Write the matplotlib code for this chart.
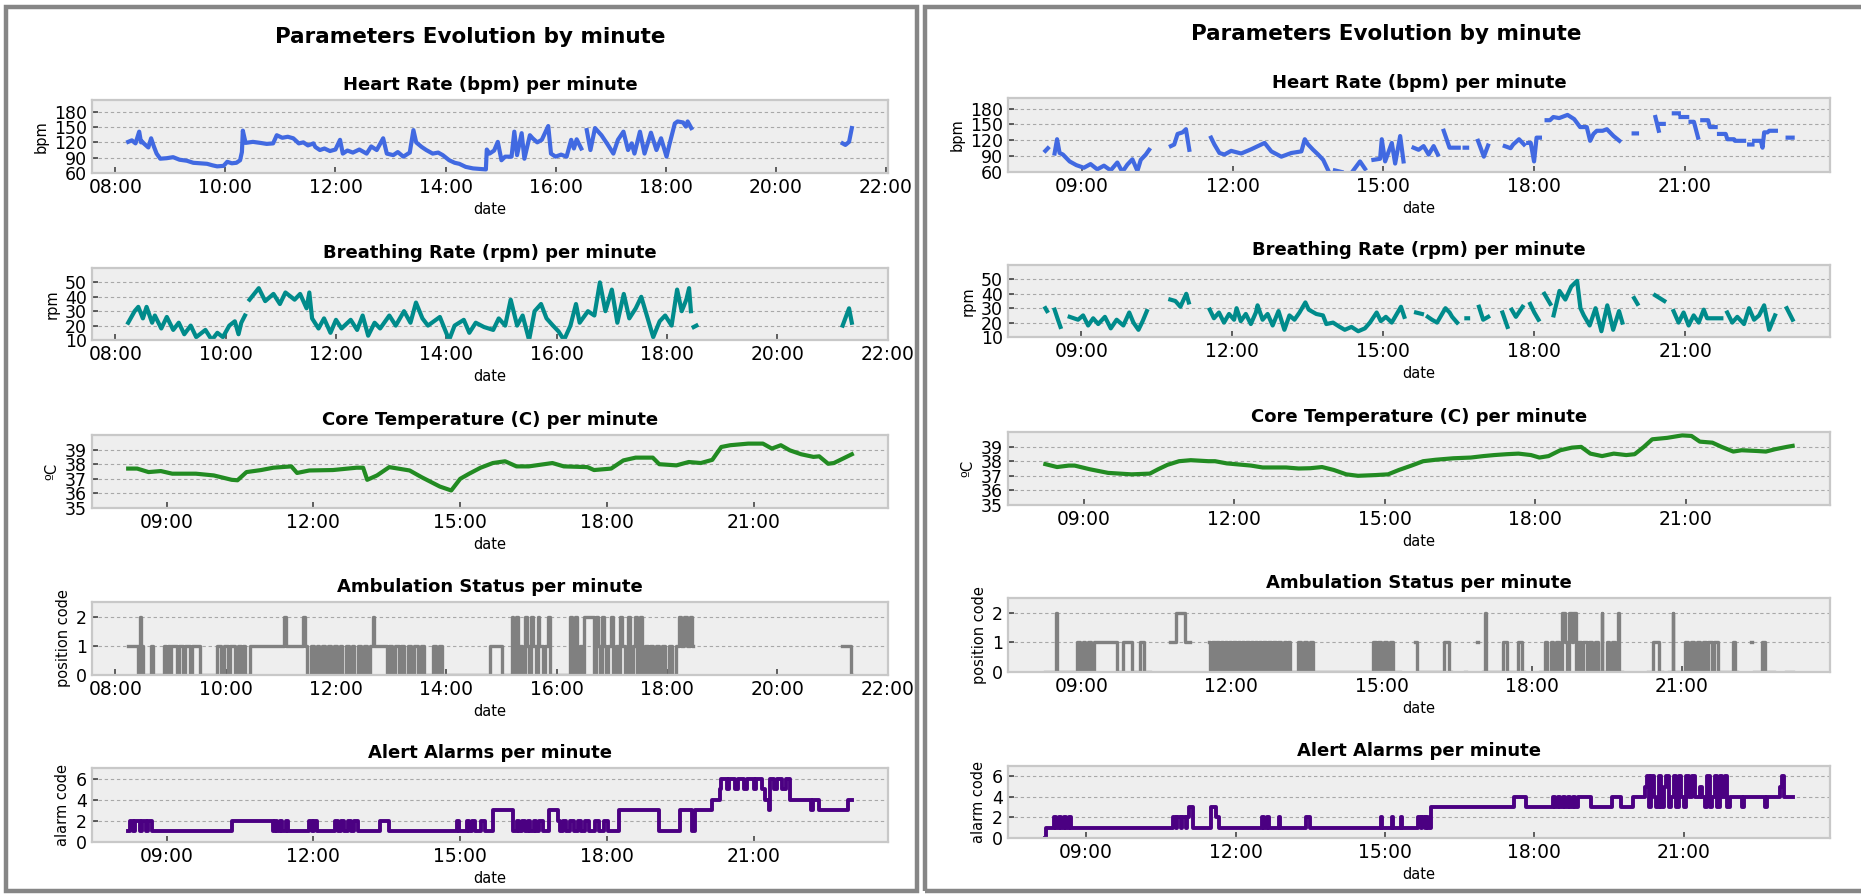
import numpy as np
import pandas as pd
import matplotlib
matplotlib.use('Agg')
import matplotlib.pyplot as plt
import matplotlib.dates as mdates
from matplotlib.patches import Rectangle

# ---------------- left panel data ----------------
lhr_t = ['08:14', '08:18', '08:22', '08:26', '08:28', '08:29', '08:31', '08:36', '08:39', '08:42', '08:45', '08:49',
         '08:56', '09:03', '09:10', '09:18', '09:25', '09:33', '09:40', '09:46', '09:51', '09:58', '10:02', '10:07',
         '10:12', '10:16', '10:18', '10:19', '10:22', '10:30', '10:38', '10:45', '10:52', '10:56', '11:02', '11:08',
         '11:14', '11:20', '11:25', '11:30', '11:36', '11:38', '11:43', '11:48', '11:54', '12:00', '12:05', '12:08',
         '12:13', '12:19', '12:26', '12:34', '12:39', '12:45', '12:52', '12:56', '13:03', '13:08', '13:14', '13:21',
         '13:25', '13:28', '13:34', '13:39', '13:46', '13:52', '13:57', '14:04', '14:10', '14:15', '14:22', '14:30',
         '14:37', '14:44', '14:45', '14:48', '14:53', '14:57', '15:01', '15:05', '15:12', '15:15', '15:18', '15:23',
         '15:26', '15:32', '15:35', '15:40', '15:45', '15:52', '15:55', '16:00', '16:06', '16:12', '16:17', '16:20',
         '16:23', '16:28', '16:31', '16:34', '16:38', '16:43', '16:50', '16:56', '17:03', '17:08', '17:14', '17:19',
         '17:23', '17:26', '17:32', '17:37', '17:44', '17:50', '17:55', '18:01', '18:04', '18:10', '18:13', '18:19',
         '18:22', '18:24', '18:28', '18:35', '21:13', '21:16', '21:20', '21:23']
lhr_v = [121, 124, 118, 141, 120, 122, 118, 110, 128, 112, 98, 88,
         89, 91, 86, 84, 80, 79, 78, 75, 73, 74, 82, 79,
         80, 85, 101, 143, 119, 121, 119, 117, 118, 134, 129, 131,
         128, 118, 120, 114, 118, 111, 105, 108, 103, 106, 125, 98,
         104, 100, 106, 98, 112, 105, 128, 98, 95, 101, 92, 100,
         144, 120, 111, 105, 98, 100, 95, 85, 80, 78, 72, 69,
         68, 67, 106, 98, 104, 121, 85, 92, 92, 141, 95, 138,
         88, 134, 128, 120, 125, 152, 98, 92, 96, 92, 125, 108,
         126, 108, None, 144, 105, 148, 134, 118, 98, 125, 141, 105,
         118, 98, 141, 98, 139, 105, 128, 92, 115, 157, 161, 159,
         151, 161, 148, None, 118, 115, 121, 148]

lbr_t = ['08:14', '08:21', '08:25', '08:30', '08:34', '08:40', '08:43', '08:50', '08:56', '09:03', '09:09', '09:15',
         '09:22', '09:28', '09:38', '09:45', '09:51', '09:57', '10:04', '10:10', '10:14', '10:17', '10:21', '10:23',
         '10:26', '10:36', '10:43', '10:52', '10:59', '11:05', '11:15', '11:21', '11:28', '11:31', '11:34', '11:41',
         '11:47', '11:54', '12:00', '12:06', '12:16', '12:23', '12:29', '12:35', '12:42', '12:48', '12:58', '13:05',
         '13:14', '13:21', '13:27', '13:34', '13:40', '13:53', '14:03', '14:09', '14:19', '14:25', '14:32', '14:41',
         '14:51', '14:57', '15:04', '15:10', '15:17', '15:23', '15:30', '15:36', '15:43', '15:49', '15:56', '16:02',
         '16:08', '16:15', '16:21', '16:25', '16:34', '16:41', '16:47', '16:53', '17:00', '17:06', '17:13', '17:19',
         '17:26', '17:32', '17:39', '17:45', '17:52', '17:58', '18:05', '18:11', '18:16', '18:21', '18:24', '18:26',
         '18:27', '18:29', '18:32', '19:00', '21:11', '21:18', '21:21']
lbr_v = [22, 30, 33, 25, 33, 22, 27, 18, 26, 17, 22, 14,
         20, 12, 17, 10, 15, 12, 20, 23, 14, 22, 27, None,
         38, 46, 37, 42, 35, 43, 38, 42, 32, 43, 25, 18,
         25, 15, 24, 18, 24, 17, 27, 13, 22, 18, 27, 20,
         30, 22, 36, 25, 20, 26, 10, 20, 24, 15, 22, 19,
         17, 25, 20, 38, 20, 27, 10, 30, 35, 25, 20, 16,
         10, 20, 35, 22, 30, 27, 50, 30, 45, 22, 42, 25,
         32, 40, 25, 12, 23, 27, 20, 45, 30, 38, 46, 30,
         None, 19, 20, None, 20, 32, 22]

ltemp_t = ['08:13', '08:24', '08:38', '08:53', '09:07', '09:36', '09:58', '10:20', '10:27', '10:38', '10:56', '11:11',
           '11:33', '11:40', '11:55', '12:24', '12:53', '13:01', '13:06', '13:18', '13:33', '13:58', '14:13', '14:35',
           '14:49', '15:00', '15:11', '15:25', '15:40', '15:55', '16:09', '16:24', '16:53', '17:07', '17:36', '17:44',
           '18:05', '18:20', '18:35', '18:56', '19:04', '19:25', '19:40', '19:55', '20:09', '20:20', '20:31', '20:53',
           '21:11', '21:22', '21:33', '21:44', '21:58', '22:13', '22:20', '22:31', '22:38', '22:49', '23:00']
ltemp_v = [37.7, 37.7, 37.46, 37.53, 37.35, 37.35, 37.23, 36.93, 36.9, 37.46, 37.6, 37.76,
           37.85, 37.4, 37.57, 37.6, 37.76, 37.76, 36.93, 37.23, 37.8, 37.57, 37.1, 36.47,
           36.2, 37.0, 37.35, 37.76, 38.08, 38.2, 37.85, 37.85, 38.08, 37.85, 37.8, 37.6,
           37.7, 38.26, 38.45, 38.45, 38.0, 37.92, 38.15, 38.08, 38.3, 39.18, 39.3, 39.41,
           39.41, 39.07, 39.3, 38.95, 38.68, 38.5, 38.54, 38.03, 38.08, 38.38, 38.68]

lamb_t = ['08:14', '08:25', '08:27', '08:28', '08:30', '08:39', '08:41', '08:53', '08:55', '08:57', '08:59', '09:01',
          '09:07', '09:09', '09:14', '09:16', '09:21', '09:23', '09:32', '09:51', '09:55', '09:58', '10:03', '10:05',
          '10:10', '10:13', '10:17', '10:19', '10:21', '10:26', '11:04', '11:06', '11:24', '11:26', '11:29', '11:33',
          '11:36', '11:39', '11:42', '11:45', '11:48', '11:51', '11:55', '11:58', '12:01', '12:04', '12:07', '12:11',
          '12:14', '12:17', '12:20', '12:24', '12:27', '12:30', '12:34', '12:37', '12:40', '12:41', '12:55', '12:58',
          '13:01', '13:04', '13:08', '13:11', '13:14', '13:18', '13:22', '13:25', '13:29', '13:32', '13:36', '13:46',
          '13:49', '13:52', '13:55', '14:47', '15:01', '15:11', '15:13', '15:16', '15:18', '15:20', '15:22', '15:26',
          '15:28', '15:30', '15:32', '15:34', '15:38', '15:40', '15:41', '15:45', '15:47', '15:51', '15:53', '16:15',
          '16:17', '16:20', '16:22', '16:25', '16:28', '16:30', '16:41', '16:43', '16:45', '16:47', '16:49', '16:51',
          '16:54', '16:56', '16:59', '17:01', '17:04', '17:07', '17:09', '17:11', '17:14', '17:18', '17:20', '17:23',
          '17:25', '17:27', '17:31', '17:33', '17:36', '17:39', '17:42', '17:45', '17:48', '17:51', '17:55', '17:58',
          '18:02', '18:05', '18:10', '18:13', '18:15', '18:19', '18:22', '18:25', '18:27', '18:28', '21:10', '21:20',
          '21:21']
lamb_v = [1, 0, 2, 1, 0, 1, 0, 1, 0, 1, 0, 1,
          0, 1, 0, 1, 0, 1, 0, 1, 0, 1, 0, 1,
          0, 1, 0, 1, 0, 1, 2, 1, 2, 1, 0, 1,
          0, 1, 0, 1, 0, 1, 0, 1, 0, 1, 0, 1,
          0, 1, 0, 1, 0, 1, 0, 1, 2, 1, 0, 1,
          0, 1, 0, 1, 0, 1, 0, 1, 0, 1, 0, 1,
          0, 1, 0, 1, 0, 2, 0, 2, 0, 1, 0, 2,
          1, 0, 2, 1, 0, 2, 1, 0, 1, 2, 0, 2,
          0, 2, 0, 1, 0, 2, 0, 2, 1, 0, 2, 1,
          0, 1, 2, 0, 1, 0, 2, 1, 0, 2, 0, 1,
          2, 0, 2, 0, 1, 0, 1, 0, 1, 0, 1, 0,
          1, 0, 1, 2, 1, 2, 1, 2, 1, None, 1, 0,
          0]

lalarm_t = ['08:13', '08:15', '08:19', '08:21', '08:27', '08:30', '08:35', '08:37', '08:42', '10:20', '11:11', '11:13',
            '11:16', '11:19', '11:22', '11:26', '11:29', '11:55', '11:58', '12:01', '12:05', '12:27', '12:30', '12:34',
            '12:38', '12:42', '12:46', '12:50', '12:55', '13:22', '13:33', '14:56', '14:58', '15:08', '15:11', '15:15',
            '15:18', '15:25', '15:30', '15:40', '16:05', '16:09', '16:12', '16:16', '16:19', '16:23', '16:26', '16:30',
            '16:33', '16:37', '16:42', '16:49', '17:00', '17:02', '17:06', '17:10', '17:15', '17:19', '17:24', '17:28',
            '17:33', '17:38', '17:45', '17:50', '17:56', '18:01', '18:15', '19:04', '19:29', '19:44', '19:48', '20:09',
            '20:18', '20:20', '20:27', '20:30', '20:37', '20:40', '20:48', '20:51', '21:00', '21:03', '21:10', '21:14',
            '21:18', '21:20', '21:25', '21:28', '21:35', '21:39', '21:44', '22:10', '22:13', '22:20', '22:55', '23:00']
lalarm_v = [1, 2, 1, 2, 1, 2, 1, 2, 1, 2, 1, 2,
            1, 2, 1, 2, 1, 2, 1, 2, 1, 2, 1, 2,
            1, 2, 1, 2, 1, 2, 1, 2, 1, 2, 1, 2,
            1, 2, 1, 3, 1, 2, 1, 2, 1, 2, 1, 2,
            1, 2, 1, 3, 2, 1, 2, 1, 2, 1, 2, 1,
            2, 1, 2, 1, 2, 1, 3, 1, 3, 1, 3, 4,
            5, 6, 5, 6, 5, 6, 5, 6, 5, 6, 5, 4,
            3, 6, 5, 6, 5, 6, 4, 3, 4, 3, 4, 4]

# ---------------- right panel data ----------------
rhr_t = ['08:16', '08:19', '08:23', '08:27', '08:30', '08:33', '08:37', '08:45', '08:53', '09:02', '09:10', '09:18',
         '09:26', '09:34', '09:42', '09:48', '09:54', '10:00', '10:06', '10:10', '10:16', '10:20', '10:30', '10:46',
         '10:50', '10:54', '11:00', '11:04', '11:08', '11:20', '11:34', '11:38', '11:44', '11:50', '11:58', '12:10',
         '12:22', '12:38', '12:46', '12:58', '13:10', '13:22', '13:26', '13:30', '13:36', '13:42', '13:48', '13:54',
         '13:58', '14:02', '14:10', '14:16', '14:24', '14:32', '14:38', '14:42', '14:48', '14:56', '14:58', '15:02',
         '15:10', '15:14', '15:20', '15:24', '15:30', '15:36', '15:42', '15:48', '15:54', '16:00', '16:05', '16:09',
         '16:12', '16:19', '16:30', '16:34', '16:37', '16:40', '16:46', '16:53', '17:00', '17:05', '17:15', '17:25',
         '17:32', '17:35', '17:42', '17:48', '17:51', '17:53', '17:56', '18:00', '18:03', '18:07', '18:11', '18:15',
         '18:19', '18:23', '18:30', '18:40', '18:48', '18:55', '19:03', '19:07', '19:11', '19:15', '19:22', '19:27',
         '19:35', '19:42', '19:50', '19:59', '20:03', '20:15', '20:25', '20:29', '20:30', '20:31', '20:35', '20:40',
         '20:47', '20:53', '20:54', '20:55', '21:03', '21:05', '21:07', '21:11', '21:16', '21:19', '21:21', '21:28',
         '21:30', '21:37', '21:39', '21:41', '21:49', '21:51', '21:59', '22:00', '22:11', '22:14', '22:17', '22:21',
         '22:22', '22:23', '22:31', '22:33', '22:35', '22:39', '22:41', '22:49', '22:55', '23:03', '23:09']
rhr_v = [100, 105, None, 95, 122, 96, 93, 80, 73, 68, 75, 65,
         72, 63, 78, 60, 74, 84, 62, 83, 93, 102, None, 109,
         112, 132, 135, 141, 102, None, 125, 112, 96, 93, 100, 95,
         103, 115, 99, 89, 96, 99, 122, 112, 102, 93, 83, 63,
         None, 63, 60, None, 63, 80, 66, None, 83, 85, 122, 80,
         115, 76, 128, 80, None, 106, 102, 109, 93, 109, 93, None,
         138, 106, 106, None, 106, 106, None, 119, 89, 110, None, 109,
         105, 112, 122, 112, None, 115, 115, 80, 125, 125, None, 158,
         158, 164, 162, 168, 160, 145, 145, 119, 132, 138, 138, 141,
         128, 119, None, 133, 133, None, 164, 138, None, 151, 151, None,
         171, 171, None, 164, 164, None, 155, 155, 125, None, 158, 158,
         145, 145, None, 132, 132, 122, 122, 119, 119, None, 112, 112,
         None, 119, 119, 106, 135, 135, 138, 138, None, 125, 125]

rbr_t = ['08:17', '08:19', '08:24', '08:28', '08:32', '08:35', '08:40', '08:46', '08:56', '09:02', '09:08', '09:14',
         '09:20', '09:28', '09:35', '09:42', '09:50', '09:57', '10:02', '10:08', '10:13', '10:18', '10:30', '10:46',
         '10:52', '10:58', '11:05', '11:08', '11:20', '11:33', '11:38', '11:44', '11:50', '11:56', '12:02', '12:05',
         '12:10', '12:16', '12:22', '12:28', '12:30', '12:36', '12:42', '12:48', '12:55', '13:02', '13:08', '13:14',
         '13:20', '13:27', '13:31', '13:40', '13:48', '13:52', '14:00', '14:08', '14:14', '14:22', '14:30', '14:38',
         '14:44', '14:52', '14:57', '15:03', '15:10', '15:16', '15:21', '15:25', '15:32', '15:39', '15:46', '15:50',
         '15:53', '15:58', '16:04', '16:08', '16:14', '16:19', '16:22', '16:28', '16:33', '16:39', '16:41', '16:48',
         '16:54', '16:59', '17:05', '17:12', '17:22', '17:28', '17:30', '17:33', '17:38', '17:46', '17:50', '17:55',
         '18:00', '18:05', '18:08', '18:12', '18:19', '18:21', '18:23', '18:30', '18:37', '18:44', '18:51', '18:55',
         '18:59', '19:06', '19:13', '19:20', '19:27', '19:34', '19:41', '19:45', '19:52', '19:59', '20:03', '20:15',
         '20:24', '20:35', '20:40', '20:46', '20:52', '20:58', '21:04', '21:10', '21:16', '21:22', '21:26', '21:32',
         '21:43', '21:46', '21:50', '21:56', '22:02', '22:10', '22:16', '22:22', '22:28', '22:34', '22:40', '22:47',
         '22:55', '23:01', '23:08']
rbr_v = [30, 28, None, 29, 22, 17, None, 24, 22, 25, 18, 23,
         19, 24, 16, 22, 18, 27, 20, 15, 21, 28, None, 36,
         35, 31, 40, 34, None, 29, 23, 27, 20, 26, 22, 30,
         21, 26, 19, 27, 32, 22, 26, 18, 28, 15, 25, 22,
         27, 34, 29, 26, 25, 19, 20, 17, 15, 17, 14, 16,
         20, 27, 21, 24, 20, 26, 31, 24, None, 27, 26, None,
         24, 22, 20, 24, 30, 27, 24, 20, None, 23, 23, None,
         31, 22, 24, None, 27, 17, None, 29, 24, 31, None, 33,
         27, 22, None, 40, 33, None, 25, 42, 36, 45, 49, 30,
         25, 18, 30, 14, 32, 15, 28, 20, None, 37, 33, None,
         39, 35, None, 28, 20, 27, 18, 25, 20, 29, 23, 23,
         23, None, 27, 20, 24, 19, 30, 22, 25, 32, 15, 25,
         None, 30, 22]

rtemp_t = ['08:14', '08:28', '08:42', '08:49', '09:07', '09:29', '09:57', '10:19', '10:29', '10:40', '10:54', '11:08',
           '11:29', '11:37', '11:51', '12:20', '12:34', '13:02', '13:17', '13:31', '13:45', '13:59', '14:14', '14:28',
           '14:49', '15:04', '15:17', '15:32', '15:46', '16:01', '16:22', '16:43', '16:58', '17:11', '17:26', '17:40',
           '17:55', '18:05', '18:16', '18:30', '18:44', '18:55', '19:06', '19:20', '19:34', '19:49', '19:59', '20:10',
           '20:20', '20:38', '20:56', '21:07', '21:17', '21:32', '21:43', '21:57', '22:07', '22:25', '22:36', '22:47',
           '23:01', '23:08']
rtemp_v = [37.8, 37.6, 37.7, 37.7, 37.45, 37.2, 37.1, 37.15, 37.45, 37.75, 38.0, 38.07,
           38.0, 38.0, 37.85, 37.7, 37.57, 37.57, 37.5, 37.52, 37.6, 37.4, 37.1, 37.0,
           37.05, 37.1, 37.4, 37.7, 38.0, 38.1, 38.2, 38.25, 38.35, 38.42, 38.48, 38.52,
           38.42, 38.25, 38.35, 38.75, 38.93, 38.98, 38.52, 38.35, 38.52, 38.42, 38.48, 38.98,
           39.5, 39.6, 39.77, 39.73, 39.34, 39.27, 38.98, 38.66, 38.75, 38.7, 38.66, 38.82,
           38.98, 39.05]

ramb_t = ['08:17', '08:30', '08:31', '08:55', '08:58', '09:02', '09:05', '09:08', '09:12', '09:15', '09:43', '09:50',
          '10:01', '10:11', '10:15', '10:22', '10:46', '10:54', '11:05', '11:10', '11:33', '11:35', '11:37', '11:40',
          '11:42', '11:45', '11:47', '11:50', '11:52', '11:55', '11:57', '12:00', '12:02', '12:05', '12:08', '12:10',
          '12:13', '12:15', '12:18', '12:21', '12:23', '12:26', '12:28', '12:31', '12:33', '12:36', '12:38', '12:41',
          '12:44', '12:47', '12:50', '12:53', '12:56', '13:00', '13:03', '13:06', '13:08', '13:10', '13:20', '13:24',
          '13:27', '13:31', '13:34', '13:38', '14:50', '14:53', '14:56', '15:00', '15:03', '15:07', '15:10', '15:14',
          '15:22', '15:40', '15:43', '16:15', '16:21', '16:23', '16:40', '16:41', '16:55', '16:56', '17:02', '17:04',
          '17:05', '17:26', '17:30', '17:44', '17:48', '17:51', '18:10', '18:16', '18:19', '18:23', '18:26', '18:29',
          '18:33', '18:37', '18:40', '18:43', '18:45', '18:48', '18:50', '18:53', '18:56', '18:59', '19:02', '19:06',
          '19:09', '19:13', '19:16', '19:20', '19:24', '19:25', '19:30', '19:33', '19:36', '19:40', '19:44', '19:45',
          '19:49', '20:20', '20:25', '20:33', '20:36', '20:45', '20:49', '20:50', '21:04', '21:08', '21:11', '21:15',
          '21:18', '21:22', '21:25', '21:29', '21:32', '21:36', '21:39', '21:43', '22:01', '22:04', '22:06', '22:23',
          '22:24', '22:27', '22:36', '22:40', '22:51', '23:05', '23:13']
ramb_v = [0, 2, 0, 1, 0, 1, 0, 1, 0, 1, 0, 1,
          0, 1, 0, None, 1, 2, 1, None, 1, 0, 1, 0,
          1, 0, 1, 0, 1, 0, 1, 0, 1, 0, 1, 0,
          1, 0, 1, 0, 1, 0, 1, 0, 1, 0, 1, 0,
          1, 0, 1, 0, 1, 0, 1, 0, 1, 0, 1, 0,
          1, 0, 1, 0, 1, 0, 1, 0, 1, 0, 1, 0,
          None, 1, 0, 1, 0, None, 0, None, 1, None, 0, 2,
          0, 1, 0, 1, 0, None, 0, 1, 0, 1, 0, 1,
          0, 2, 1, 0, 2, 1, 2, 0, 1, 0, 1, 0,
          1, 0, 1, 0, 2, 0, 1, 0, 1, 0, 2, 0,
          None, 0, 1, 0, None, 0, 2, 0, 1, 0, 1, 0,
          1, 0, 1, 0, 1, 0, 1, 0, 1, 0, None, 1,
          None, 0, 1, 0, None, 0, 0]

ralarm_t = ['08:11', '08:12', '08:22', '08:24', '08:28', '08:30', '08:34', '08:36', '08:40', '08:42', '10:45', '10:48',
            '10:50', '10:54', '10:56', '11:00', '11:02', '11:04', '11:09', '11:30', '11:37', '11:40', '12:32', '12:34',
            '12:38', '12:40', '12:52', '12:54', '13:25', '13:30', '14:55', '14:57', '15:08', '15:10', '15:19', '15:21',
            '15:40', '15:43', '15:45', '15:48', '15:50', '15:52', '15:55', '17:36', '17:50', '18:22', '18:25', '18:28',
            '18:31', '18:34', '18:37', '18:40', '18:43', '18:46', '18:49', '18:52', '19:08', '19:33', '19:44', '19:59',
            '20:13', '20:15', '20:18', '20:21', '20:24', '20:27', '20:30', '20:33', '20:36', '20:39', '20:42', '20:45',
            '20:48', '20:51', '20:54', '20:57', '21:00', '21:03', '21:06', '21:10', '21:14', '21:20', '21:22', '21:26',
            '21:28', '21:31', '21:34', '21:37', '21:40', '21:43', '21:46', '21:49', '21:52', '21:56', '22:10', '22:12',
            '22:38', '22:40', '22:56', '22:58', '23:00', '23:11']
ralarm_v = [0, 1, 2, 1, 2, 1, 2, 1, 2, 1, 2, 1,
            2, 1, 2, 1, 2, 3, 1, 3, 2, 1, 2, 1,
            2, 1, 2, 1, 2, 1, 2, 1, 2, 1, 2, 1,
            2, 1, 2, 1, 2, 1, 3, 4, 3, 4, 3, 4,
            3, 4, 3, 4, 3, 4, 3, 4, 3, 4, 3, 4,
            5, 6, 3, 6, 4, 3, 6, 3, 5, 6, 3, 4,
            6, 3, 6, 4, 3, 6, 4, 6, 4, 5, 4, 3,
            6, 3, 4, 6, 3, 6, 4, 6, 3, 4, 3, 4,
            3, 4, 5, 6, 4, 4]

# ---------------- figure ----------------
W, H = 1861, 894
plt.rcParams['font.family'] = ['DejaVu Sans']
plt.rcParams['xtick.labelsize'] = 13.5
plt.rcParams['ytick.labelsize'] = 12.5
fig = plt.figure(figsize=(W / 100, H / 100), dpi=100)


def box(x0, y0, x1, y1):
    return [x0 / W, 1 - y1 / H, (x1 - x0) / W, (y1 - y0) / H]


def draw(rect, t, v, color, title, ylabel, ylim, yticks, hours, lw, steps=False):
    ax = fig.add_axes(box(*rect))
    x = pd.to_datetime(['2021-03-01 ' + s for s in t])
    ax.plot(x, np.array(v, dtype=float), color=color, lw=lw,
            drawstyle='steps-post' if steps else 'default')
    ax.set_facecolor('#eeeeee')
    for s in ax.spines.values():
        s.set_color('#c8c8c8')
        s.set_linewidth(1.6)
    ax.grid(True, axis='y', color='#a8a8a8', linestyle=(0, (3, 2.5)), linewidth=0.8)
    ax.set_axisbelow(True)
    ax.set_ylim(*ylim)
    ax.set_yticks(yticks)
    ax.xaxis.set_major_locator(mdates.HourLocator(byhour=hours))
    ax.xaxis.set_major_formatter(mdates.DateFormatter('%H:%M'))
    ax.tick_params(direction='in', length=4, width=1.2, color='#444444', top=False, right=False)
    ax.set_title(title, fontsize=13, fontweight='bold', pad=7)
    ax.set_ylabel(ylabel, fontsize=10.5)
    ax.set_xlabel('date', fontsize=10.5)
    return ax


h2 = [8, 10, 12, 14, 16, 18, 20, 22]
h3 = [9, 12, 15, 18, 21]

# left panel
draw((92, 100, 888, 173), lhr_t, lhr_v, '#4169e1', 'Heart Rate (bpm) per minute', 'bpm',
     (60, 203), [60, 90, 120, 150, 180], h2, 3.0)
draw((92, 268, 888, 340), lbr_t, lbr_v, '#008b8b', 'Breathing Rate (rpm) per minute', 'rpm',
     (10, 60), [10, 20, 30, 40, 50], h2, 3.0)
draw((92, 435, 888, 508), ltemp_t, ltemp_v, '#228b22', 'Core Temperature (C) per minute', 'ºC',
     (35, 40), [35, 36, 37, 38, 39], h3, 3.0)
draw((92, 602, 888, 675), lamb_t, lamb_v, '#808080', 'Ambulation Status per minute', 'position code',
     (0, 2.5), [0, 1, 2], h2, 2.4, steps=True)
draw((92, 768, 888, 842), lalarm_t, lalarm_v, '#4b0082', 'Alert Alarms per minute', 'alarm code',
     (0, 7), [0, 2, 4, 6], h3, 2.8, steps=True)

# right panel
draw((1008, 98, 1830, 172), rhr_t, rhr_v, '#4169e1', 'Heart Rate (bpm) per minute', 'bpm',
     (60, 200), [60, 90, 120, 150, 180], h3, 3.0)
draw((1008, 265, 1830, 337), rbr_t, rbr_v, '#008b8b', 'Breathing Rate (rpm) per minute', 'rpm',
     (10, 60), [10, 20, 30, 40, 50], h3, 3.0)
draw((1008, 432, 1830, 505), rtemp_t, rtemp_v, '#228b22', 'Core Temperature (C) per minute', 'ºC',
     (35, 40), [35, 36, 37, 38, 39], h3, 3.0)
draw((1008, 598, 1830, 672), ramb_t, ramb_v, '#808080', 'Ambulation Status per minute', 'position code',
     (0, 2.5), [0, 1, 2], h3, 2.4, steps=True)
draw((1008, 766, 1830, 838), ralarm_t, ralarm_v, '#4b0082', 'Alert Alarms per minute', 'alarm code',
     (0, 7), [0, 2, 4, 6], h3, 2.8, steps=True)

fig.text(470 / W, 1 - 37 / H, 'Parameters Evolution by minute', ha='center', va='center',
         fontsize=15.5, fontweight='bold')
fig.text(1386 / W, 1 - 34 / H, 'Parameters Evolution by minute', ha='center', va='center',
         fontsize=15.5, fontweight='bold')

# gray frames around each panel
for x0, x1 in [(6, 917), (925, 1866)]:
    fig.add_artist(Rectangle((x0 / W, 1 - 891 / H), (x1 - x0) / W, (891 - 7) / H, fill=False,
                             edgecolor='#868686', linewidth=3.2, transform=fig.transFigure))

fig.savefig('out.png', dpi=100)
